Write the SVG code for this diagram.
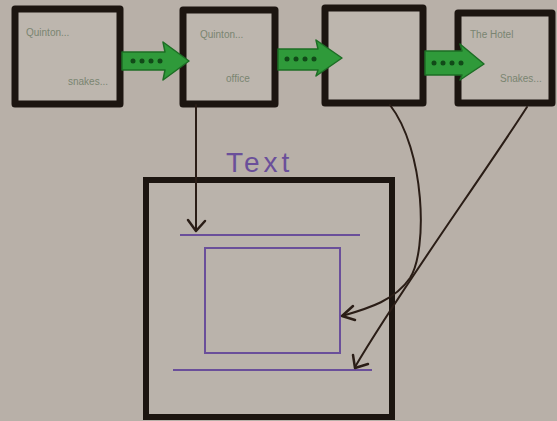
<svg xmlns="http://www.w3.org/2000/svg" width="557" height="421" viewBox="0 0 557 421">
<defs>
<style>
.box{fill:#bdb6ae;stroke:#1c1510;stroke-width:7;stroke-linejoin:round}
.big{fill:#bab3ab;stroke:#1c1510;stroke-width:6}
.conn{fill:none;stroke:#2a1d16;stroke-width:2;stroke-linecap:round}
.head{fill:none;stroke:#2a1d16;stroke-width:2.5;stroke-linecap:round;stroke-linejoin:round}
.garrow{fill:#2f9a3a;stroke:#1d6e25;stroke-width:1.5;stroke-linejoin:round}
.dot{fill:#114a18}
.lbl{font-family:"Liberation Sans",Arial,sans-serif;font-size:10px;fill:#7a8571}
.purple{fill:none;stroke:#6a4f9a;stroke-width:2}
.ttl{font-family:"Liberation Sans",Arial,sans-serif;font-size:28px;fill:#6a4f9a;letter-spacing:4px}
</style>
</defs>
<rect width="557" height="421" fill="#b8b0a8"/>

<g id="node1">
<rect class="box" x="15" y="9" width="105" height="95"/>
<text class="lbl" x="26" y="36">Quinton...</text>
<text class="lbl" x="68" y="85">snakes...</text>
</g>
<g id="node2">
<rect class="box" x="183" y="10" width="92" height="94"/>
<text class="lbl" x="200" y="38">Quinton...</text>
<text class="lbl" x="226" y="82">office</text>
</g>
<g id="node3">
<rect class="box" x="325" y="8" width="98" height="95"/>
</g>
<g id="node4">
<rect class="box" x="458" y="13" width="94" height="90"/>
<text class="lbl" x="470" y="38">The Hotel</text>
<text class="lbl" x="500" y="82">Snakes...</text>
</g>
<g id="node5">
<rect class="big" x="146" y="180" width="246" height="237"/>
<text class="ttl" x="226" y="172">Text</text>
<line class="purple" x1="180" y1="235" x2="360" y2="235"/>
<rect class="purple" x="205" y="248" width="135" height="105"/>
<line class="purple" x1="173" y1="370" x2="372" y2="370"/>
</g>

<g id="connectors">
<g id="arrow1">
<path class="garrow" d="M122,52 L165,52 L163,42 L189,61 L163,80 L165,70 L122,70 Z"/>
<circle class="dot" cx="133" cy="61" r="2.5"/><circle class="dot" cx="142" cy="61" r="2.5"/><circle class="dot" cx="151" cy="61" r="2.5"/><circle class="dot" cx="160" cy="61" r="2.5"/>
</g>
<g id="arrow2">
<path class="garrow" d="M278,49 L318,49 L316,40 L342,58 L316,76 L318,70 L278,70 Z"/>
<circle class="dot" cx="287" cy="59" r="2.5"/><circle class="dot" cx="296" cy="59" r="2.5"/><circle class="dot" cx="305" cy="59" r="2.5"/><circle class="dot" cx="314" cy="59" r="2.5"/>
</g>
<g id="arrow3">
<path class="garrow" d="M425,51 L462,51 L460,44 L484,64 L460,80 L462,75 L425,75 Z"/>
<circle class="dot" cx="434" cy="63" r="2.5"/><circle class="dot" cx="443" cy="63" r="2.5"/><circle class="dot" cx="452" cy="63" r="2.5"/><circle class="dot" cx="461" cy="63" r="2.5"/>
</g>
<path class="conn" d="M196,105 L196,230"/>
<path class="head" d="M188,220 L196,231 L205,221"/>
<path class="conn" d="M390,105 C425,150 428,250 410,278 C395,300 370,308 342,316"/>
<path class="head" d="M353,306 L342,316 L355,320"/>
<path class="conn" d="M527,107 C480,180 400,290 355,367"/>
<path class="head" d="M353,355 L355,368 L368,364"/>
</g>
</svg>
